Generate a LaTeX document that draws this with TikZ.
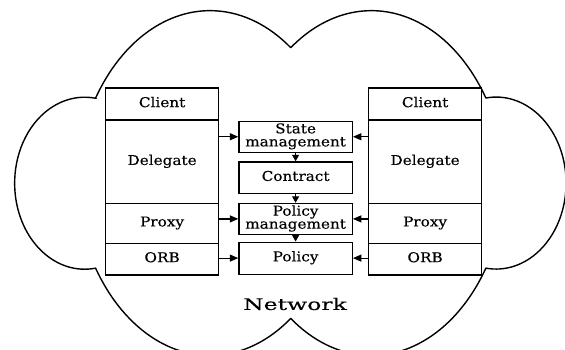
\documentclass[tikz,border=0pt]{standalone}
\usepackage{fontspec}
\setmainfont{DejaVu Serif}[FakeBold=0.25]
\usetikzlibrary{arrows.meta}
\newcommand{\lbl}[1]{\scalebox{1.13}[1]{\begin{tabular}{@{}c@{}}#1\end{tabular}}}
\begin{document}
\begin{tikzpicture}[x=1pt,y=1pt,
  box/.style={draw, line width=1.2pt, fill=white, inner sep=0pt, anchor=south west,
    font=\fontsize{13.5}{12.8}\selectfont},
  colbox/.style={box, minimum width=113pt},
  midbox/.style={box, minimum width=113.4pt},
  harr/.style={line width=1.2pt, -{Triangle[length=8.5pt,width=7pt]}},
  varr/.style={line width=1.2pt, -{Triangle[length=6.5pt,width=7pt]}},
  cloudline/.style={line width=1.4pt, line join=round}]
\useasboundingbox (0,0) rectangle (565,349);
\begin{scope}
\clip (0,0) rectangle (565,349);
\draw[cloudline] (95.6,251)
  arc[start angle=147.3, end angle=53.6, x radius=136, y radius=190]
  arc[start angle=126.4, end angle=32.7, x radius=136, y radius=190]
  arc[start angle=98.4, end angle=-98.4, x radius=70, y radius=86]
  arc[start angle=-32.7, end angle=-126.4, x radius=136, y radius=190]
  arc[start angle=-53.6, end angle=-147.3, x radius=136, y radius=190]
  arc[start angle=-81, end angle=-279.5, x radius=70, y radius=86]
  -- cycle;
\end{scope}
% left column
\node[colbox, minimum height=32pt]   (lcli) at (105,228.5) {\lbl{Client}};
\node[colbox, minimum height=83.7pt] (ldel) at (105,144.8) {\lbl{Delegate}};
\node[colbox, minimum height=39.6pt] (lpro) at (105,105.2) {\lbl{Proxy}};
\node[colbox, minimum height=31.7pt] (lorb) at (105,73.5)  {\lbl{ORB}};
% right column
\node[colbox, minimum height=32pt]   (rcli) at (368,228.5) {\lbl{Client}};
\node[colbox, minimum height=83.7pt] (rdel) at (368,144.8) {\lbl{Delegate}};
\node[colbox, minimum height=39.6pt] (rpro) at (368,105.2) {\lbl{Proxy}};
\node[colbox, minimum height=31.7pt] (rorb) at (368,73.5)  {\lbl{ORB}};
% middle
\node[midbox, minimum height=31.3pt] (state) at (238.3,196)   {\lbl{State\\management}};
\node[midbox, minimum height=31.8pt] (contr) at (238.3,154.7) {\lbl{Contract}};
\node[midbox, minimum height=31pt]   (pmgmt) at (238.3,114)   {\lbl{Policy\\management}};
\node[midbox, minimum height=32pt]   (pol)   at (238.3,74.3)  {\lbl{Policy}};
% arrows
\draw[harr] (ldel.east |- state.west) -- (state.west);
\draw[harr] (rdel.west |- state.east) -- (state.east);
\draw[harr] (lpro.east |- pmgmt.west) -- (pmgmt.west);
\draw[harr] (rpro.west |- pmgmt.east) -- (pmgmt.east);
\draw[harr] (lorb.east |- pol.west) -- (pol.west);
\draw[harr] (rorb.west |- pol.east) -- (pol.east);
\draw[varr] (state.south) -- (contr.north);
\draw[varr] (contr.south) -- (pmgmt.north);
\draw[varr] (pmgmt.south) -- (pol.north);
\node[font=\fontsize{16}{16}\selectfont] (net) at (295,45) {\scalebox{1.47}[1]{Network}};
\end{tikzpicture}
\end{document}
